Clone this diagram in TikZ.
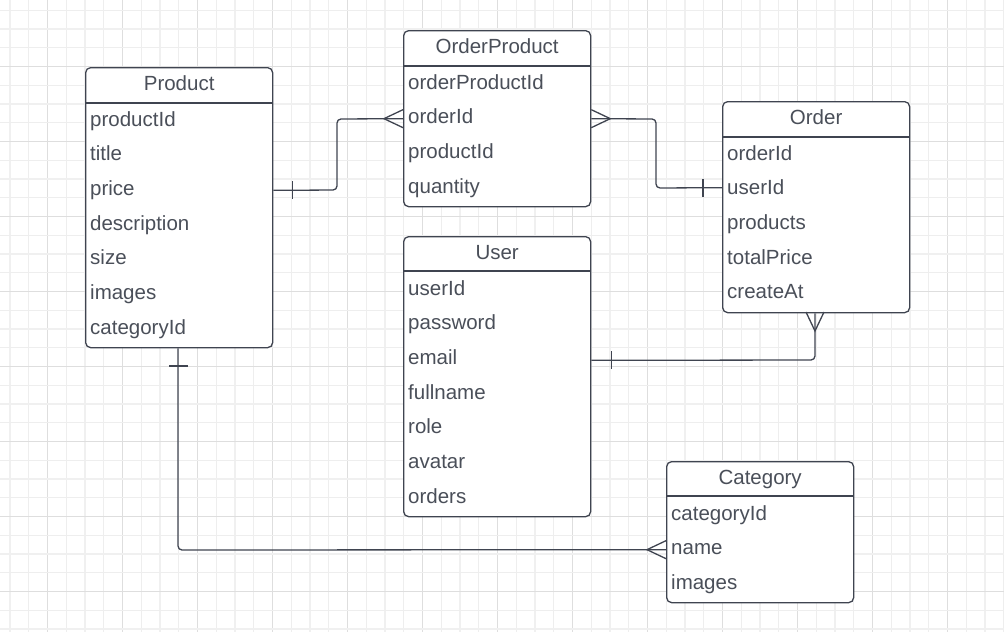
\documentclass[tikz,border=0pt]{standalone}
\usepackage{fontspec}
\setmainfont{Liberation Sans}
\definecolor{bc}{HTML}{3F4450}
\definecolor{tc}{HTML}{4A4F59}
\definecolor{gthin}{HTML}{EEEEEE}
\definecolor{gthick}{HTML}{F0F0F0}
\definecolor{gdark}{HTML}{DEDEDE}
\newcommand\tf{\fontsize{20.5}{24}\selectfont}
\newcommand\entbox[6]{%
  \node[ent, minimum width=#4pt, minimum height=#5pt] (#1) at (#2,#3) {};
  \node[hdr] (#1-title) at ($(#1.north)+(0,18)$) {#6};
}
\usetikzlibrary{calc}
\tikzset{
  ent/.style={draw=bc, line width=1.3pt, rounded corners=5pt, fill=white, anchor=north west, inner sep=0pt},
  hdr/.style={text=tc, font=\tf, anchor=center, inner sep=0pt, text height=15pt, text depth=4.5pt},
  fld/.style={text=tc, font=\tf, anchor=west, inner sep=0pt, text height=15pt, text depth=4.5pt},
  sep/.style={draw=bc, line width=1.3pt},
  conn/.style={draw=bc, line width=1.3pt, rounded corners=4pt},
  mark1/.style={draw=bc, line width=1.3pt},
}
\begin{document}
\begin{tikzpicture}[x=1pt, y=-1pt]
\useasboundingbox (0,0) rectangle (1004,632);
\fill[white] (0,0) rectangle (1004,632);
% grid
\foreach \k in {0,...,26} { \draw[gthin, line width=0.9pt] (28.75+37.5*\k,0) -- (28.75+37.5*\k,632); }
\foreach \k in {0,...,13} { \draw[gthick, line width=2pt] (10+75*\k,0) -- (10+75*\k,632); }
\foreach \k in {0,...,12} { \draw[gdark, line width=0.9pt] (47.5+75*\k,0) -- (47.5+75*\k,632); }
\foreach \k in {0,...,16} { \draw[gthin, line width=0.9pt] (0,10.25+37.5*\k) -- (1004,10.25+37.5*\k); }
\foreach \k in {0,...,8} { \draw[gthick, line width=2pt] (0,29+75*\k) -- (1004,29+75*\k); }
\foreach \k in {0,...,7} { \draw[gdark, line width=0.9pt] (0,66.5+75*\k) -- (1004,66.5+75*\k); }

% Product
\entbox{product}{85}{67}{187}{280}{Product}
\draw[sep] (85,103) -- (272,103);
\foreach \t [count=\i from 0] in {productId,title,price,description,size,images,categoryId}
  { \node[fld] (product-\t) at (90,121+34.67*\i) {\t}; }

% OrderProduct
\entbox{orderproduct}{403}{30}{187}{176}{OrderProduct}
\draw[sep] (403,66) -- (590,66);
\foreach \t [count=\i from 0] in {orderProductId,orderId,productId,quantity}
  { \node[fld] (orderproduct-\t) at (408,84+34.67*\i) {\t}; }

% Order
\entbox{order}{722}{101}{187}{211}{Order}
\draw[sep] (722,137) -- (909,137);
\foreach \t [count=\i from 0] in {orderId,userId,products,totalPrice,createAt}
  { \node[fld] (order-\t) at (727,155+34.67*\i) {\t}; }

% User
\entbox{user}{403}{236}{187}{280}{User}
\draw[sep] (403,271) -- (590,271);
\foreach \t [count=\i from 0] in {userId,password,email,fullname,role,avatar,orders}
  { \node[fld] (user-\t) at (408,290+34.67*\i) {\t}; }

% Category
\entbox{category}{666}{461}{187}{141}{Category}
\draw[sep] (666,496) -- (853,496);
\foreach \t [count=\i from 0] in {categoryId,name,images}
  { \node[fld] (category-\t) at (671,515+34.67*\i) {\t}; }

% Product -- OrderProduct
\coordinate (c1a) at (product.east |- product-price);
\coordinate (c1b) at (orderproduct.west |- orderproduct-orderId);
\draw[conn] (c1a) -- (337,190) -- (337,119) -- (c1b);
\draw[mark1] ($(c1a)+(19,-9)$) -- ($(c1a)+(19,9)$);
\draw[mark1] ($(c1b)+(0,-9)$) -- ($(c1b)+(-19,0)$) -- ($(c1b)+(0,9)$);

% OrderProduct -- Order
\coordinate (c2a) at (orderproduct.east |- orderproduct-orderId);
\coordinate (c2b) at ($(order.west |- order-userId)+(0,-2)$);
\draw[conn] (c2a) -- (656,119) -- (656,188) -- (c2b);
\draw[mark1] ($(c2a)+(0,-9)$) -- ($(c2a)+(19,0)$) -- ($(c2a)+(0,9)$);
\draw[mark1] ($(c2b)+(-19,-9)$) -- ($(c2b)+(-19,9)$);

% Order -- User
\coordinate (c3a) at (815,312);
\coordinate (c3b) at ($(user.east |- user-email)+(0,1)$);
\draw[conn] (order.south -| c3a) -- (815,360) -- (c3b);
\draw[mark1] (806,312) -- (815,331) -- (824,312);
\draw[mark1] ($(c3b)+(20,-9)$) -- ($(c3b)+(20,9)$);

% Product -- Category
\coordinate (c4a) at (178,347);
\coordinate (c4b) at (category.west |- category-name);
\draw[conn] (product.south -| c4a) -- (178,550) -- (c4b);
\draw[mark1] (169,366) -- (188,366);
\draw[mark1] ($(c4b)+(0,-9)$) -- ($(c4b)+(-19,0)$) -- ($(c4b)+(0,9)$);
\end{tikzpicture}
\end{document}
